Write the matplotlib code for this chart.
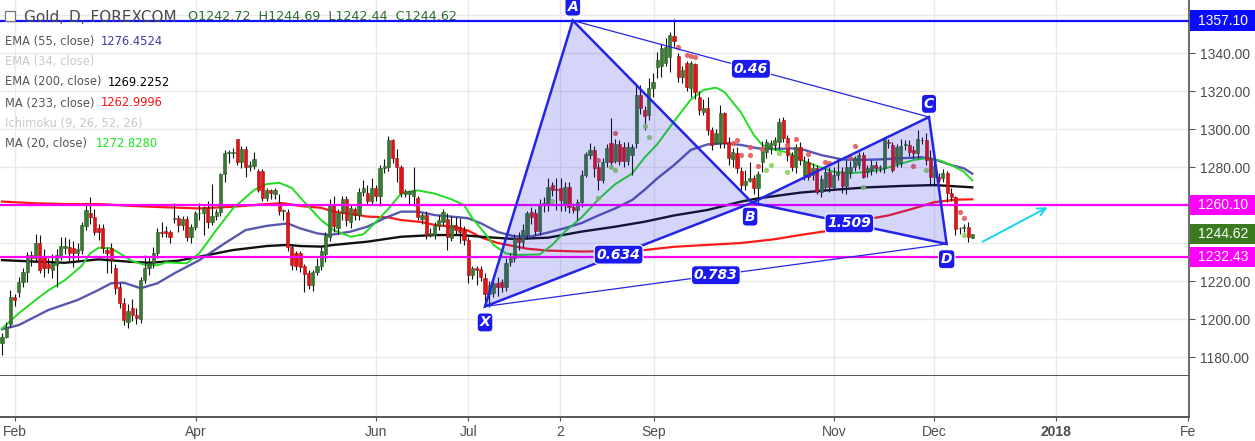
import numpy as np
import matplotlib
matplotlib.use("Agg")
from matplotlib import pyplot as plt
from matplotlib.patches import Rectangle, Polygon

W, H = 1255, 441

# daily OHLC, bar index 0 = late Jan 2017, last bar = current day
opens = [1187.5, 1190.7, 1197.4, 1211.7, 1214.4, 1219.6, 1224.5, 1233.7, 1232.0, 1239.8,
         1232.8, 1229.0, 1225.8, 1228.4, 1233.2, 1237.2, 1237.7, 1237.2, 1234.6, 1236.3,
         1248.9, 1255.6, 1253.5, 1247.7, 1247.7, 1236.3, 1237.2, 1226.7, 1217.0, 1208.6,
         1198.6, 1205.6, 1202.0, 1199.8, 1220.5, 1226.7, 1229.3, 1234.6, 1246.0, 1246.3,
         1245.6, 1252.5, 1253.0, 1249.5, 1252.4, 1243.3, 1248.6, 1255.6, 1255.6, 1258.2,
         1251.2, 1254.2, 1256.5, 1276.1, 1287.2, 1287.5, 1294.6, 1282.8, 1289.3, 1280.2,
         1280.5, 1277.9, 1277.9, 1263.5, 1267.9, 1266.0, 1261.8, 1257.0, 1256.5, 1238.1,
         1234.6, 1234.6, 1227.9, 1224.0, 1217.9, 1224.9, 1228.0, 1234.0, 1243.3, 1260.0,
         1247.7, 1256.5, 1263.0, 1251.2, 1257.7, 1254.7, 1267.0, 1266.5, 1262.3, 1268.8,
         1264.7, 1279.3, 1280.2, 1294.2, 1284.9, 1279.8, 1265.8, 1265.8, 1265.0, 1263.5,
         1252.4, 1254.7, 1244.2, 1244.2, 1249.0, 1251.2, 1252.4, 1242.5, 1249.5, 1248.6,
         1246.8, 1241.6, 1223.2, 1226.7, 1226.1, 1221.4, 1213.0, 1213.5, 1218.8, 1219.6,
         1217.0, 1230.2, 1232.3, 1242.8, 1240.7, 1244.2, 1256.5, 1256.0, 1246.3, 1260.4,
         1260.0, 1270.5, 1268.0, 1268.8, 1260.0, 1269.6, 1259.1, 1257.4, 1261.8, 1275.8,
         1286.3, 1289.0, 1280.0, 1273.2, 1282.8, 1292.5, 1283.0, 1292.0, 1290.7, 1283.2,
         1286.3, 1292.5, 1317.9, 1310.0, 1307.4, 1321.4, 1332.8, 1333.0, 1335.0, 1338.0,
         1349.1, 1338.6, 1327.5, 1334.6, 1321.4, 1334.0, 1317.0, 1309.0, 1311.0, 1299.5,
         1292.5, 1292.5, 1308.2, 1293.3, 1284.0, 1287.2, 1277.9, 1270.5, 1272.4, 1274.4,
         1268.8, 1282.8, 1288.0, 1289.8, 1291.6, 1293.3, 1304.7, 1295.1, 1286.3, 1280.2,
         1290.7, 1275.8, 1282.8, 1275.8, 1279.3, 1267.0, 1269.6, 1277.5, 1269.6, 1275.8,
         1277.5, 1270.0, 1277.5, 1280.2, 1281.0, 1286.3, 1277.5, 1278.4, 1281.0, 1279.3,
         1279.3, 1293.3, 1291.6, 1281.9, 1281.9, 1291.6, 1291.6, 1289.0, 1287.2, 1294.2,
         1294.2, 1284.6, 1274.9, 1274.6, 1274.0, 1276.7, 1266.1, 1264.0, 1247.7, 1247.7,
         1248.6, 1242.72]
highs = [1192.5, 1198.6, 1215.3, 1213.0, 1222.3, 1226.7, 1235.4, 1236.0, 1245.0, 1244.0,
         1237.0, 1232.0, 1234.0, 1237.0, 1243.3, 1243.0, 1242.0, 1241.0, 1240.0, 1251.0,
         1260.9, 1264.0, 1258.0, 1250.0, 1250.0, 1238.0, 1240.0, 1229.0, 1219.0, 1211.0,
         1208.0, 1210.4, 1206.0, 1222.0, 1233.7, 1233.0, 1238.0, 1247.7, 1251.2, 1249.0,
         1247.0, 1260.9, 1255.0, 1254.0, 1254.0, 1250.0, 1257.0, 1260.9, 1259.5, 1262.0,
         1270.9, 1258.0, 1277.0, 1289.0, 1289.0, 1290.0, 1295.0, 1291.0, 1291.0, 1283.0,
         1288.0, 1279.0, 1279.0, 1269.0, 1268.2, 1269.0, 1266.0, 1258.0, 1258.0, 1239.0,
         1236.0, 1236.0, 1229.0, 1226.0, 1226.0, 1232.0, 1238.0, 1246.0, 1263.0, 1265.0,
         1258.0, 1265.0, 1265.0, 1260.0, 1258.7, 1269.0, 1273.2, 1270.5, 1274.0, 1270.5,
         1281.0, 1284.0, 1296.3, 1295.0, 1289.3, 1281.0, 1268.2, 1268.0, 1280.2, 1265.0,
         1256.0, 1257.0, 1248.0, 1251.0, 1255.0, 1257.7, 1256.0, 1254.2, 1253.8, 1253.0,
         1249.0, 1243.0, 1228.0, 1228.0, 1228.0, 1224.0, 1220.0, 1221.0, 1222.0, 1221.0,
         1232.0, 1235.0, 1245.0, 1246.0, 1250.0, 1257.0, 1259.0, 1258.0, 1263.0, 1264.4,
         1274.0, 1272.0, 1274.0, 1274.0, 1272.0, 1272.0, 1261.0, 1263.0, 1278.4, 1288.0,
         1292.5, 1291.0, 1282.0, 1285.0, 1292.0, 1305.6, 1295.0, 1294.0, 1293.0, 1293.0,
         1292.0, 1323.2, 1323.0, 1312.0, 1326.7, 1329.3, 1340.7, 1345.0, 1348.0, 1351.0,
         1357.9, 1339.8, 1333.0, 1336.0, 1336.0, 1335.0, 1320.0, 1316.0, 1317.0, 1301.0,
         1300.0, 1312.6, 1309.0, 1296.0, 1290.0, 1290.7, 1280.0, 1278.4, 1282.8, 1276.0,
         1278.0, 1293.7, 1295.0, 1294.0, 1296.0, 1305.6, 1306.5, 1297.0, 1288.0, 1292.0,
         1293.0, 1286.0, 1285.0, 1282.0, 1281.0, 1276.0, 1280.2, 1280.0, 1280.2, 1284.0,
         1280.0, 1283.7, 1283.0, 1286.0, 1288.0, 1288.0, 1281.0, 1283.7, 1283.0, 1281.0,
         1296.0, 1295.0, 1293.0, 1292.0, 1295.0, 1294.2, 1294.0, 1291.0, 1299.5, 1296.0,
         1297.7, 1289.0, 1289.0, 1277.0, 1279.0, 1278.0, 1268.8, 1265.0, 1248.6, 1250.0,
         1251.2, 1244.69]
lows = [1181.0, 1189.8, 1196.0, 1207.0, 1211.7, 1217.0, 1219.6, 1228.0, 1230.0, 1224.0,
        1222.3, 1224.0, 1221.4, 1217.0, 1231.0, 1234.0, 1230.0, 1227.5, 1231.0, 1234.0,
        1247.0, 1250.0, 1244.0, 1241.6, 1235.0, 1224.0, 1224.0, 1213.0, 1206.0, 1197.0,
        1195.1, 1199.0, 1197.4, 1197.7, 1219.0, 1223.0, 1227.0, 1232.0, 1243.0, 1243.0,
        1240.0, 1250.4, 1246.0, 1247.0, 1241.0, 1240.0, 1247.0, 1252.0, 1244.2, 1247.7,
        1249.5, 1252.0, 1254.0, 1272.3, 1282.3, 1285.0, 1281.0, 1279.3, 1274.9, 1278.0,
        1279.0, 1267.0, 1262.0, 1262.0, 1263.0, 1263.0, 1255.0, 1252.0, 1236.0, 1226.0,
        1226.0, 1225.0, 1214.4, 1216.0, 1215.0, 1223.0, 1226.0, 1230.0, 1241.0, 1246.0,
        1245.0, 1252.0, 1249.0, 1248.0, 1252.0, 1252.0, 1265.0, 1259.8, 1260.0, 1262.0,
        1259.5, 1277.0, 1278.0, 1282.0, 1272.3, 1264.0, 1264.0, 1260.0, 1259.5, 1252.0,
        1250.0, 1242.0, 1243.3, 1242.0, 1247.0, 1249.0, 1236.3, 1241.2, 1244.0, 1240.2,
        1239.0, 1218.8, 1221.0, 1218.0, 1220.0, 1206.5, 1206.5, 1211.8, 1212.0, 1214.0,
        1215.0, 1228.0, 1230.0, 1236.3, 1238.0, 1242.0, 1250.0, 1244.0, 1244.2, 1256.5,
        1257.0, 1265.0, 1257.4, 1256.8, 1257.0, 1256.0, 1255.6, 1252.1, 1259.0, 1274.9,
        1284.0, 1275.0, 1268.0, 1271.4, 1280.0, 1280.0, 1282.0, 1281.0, 1280.0, 1281.0,
        1275.8, 1290.0, 1308.0, 1299.5, 1305.0, 1317.0, 1327.0, 1327.5, 1333.0, 1330.0,
        1343.0, 1325.0, 1324.0, 1320.0, 1317.0, 1316.0, 1307.4, 1307.4, 1297.0, 1289.0,
        1292.0, 1290.0, 1289.8, 1281.0, 1280.0, 1277.0, 1268.0, 1268.0, 1272.3, 1266.0,
        1260.9, 1277.5, 1285.0, 1287.0, 1289.0, 1290.0, 1293.0, 1283.0, 1278.0, 1277.0,
        1281.0, 1273.0, 1273.2, 1273.0, 1266.0, 1264.0, 1268.0, 1267.0, 1267.9, 1273.0,
        1266.5, 1266.0, 1274.0, 1278.0, 1279.0, 1274.0, 1274.9, 1276.0, 1277.0, 1277.5,
        1277.0, 1290.0, 1277.5, 1280.0, 1280.0, 1289.0, 1286.0, 1285.0, 1285.0, 1292.0,
        1281.0, 1270.0, 1270.0, 1272.0, 1272.0, 1261.8, 1262.0, 1244.2, 1244.7, 1246.0,
        1240.7, 1242.44]
closes = [1190.7, 1196.0, 1211.7, 1210.0, 1219.6, 1224.9, 1233.7, 1232.0, 1239.8, 1225.8,
          1226.7, 1226.7, 1229.3, 1233.7, 1238.4, 1238.4, 1234.6, 1234.6, 1236.7, 1249.5,
          1257.4, 1253.9, 1246.0, 1246.0, 1237.2, 1234.6, 1231.0, 1216.2, 1208.2, 1199.5,
          1204.4, 1202.1, 1200.4, 1220.5, 1226.7, 1229.3, 1234.6, 1246.0, 1245.1, 1245.1,
          1243.0, 1253.0, 1249.5, 1252.4, 1243.3, 1248.6, 1255.6, 1256.0, 1258.2, 1251.2,
          1254.2, 1256.5, 1276.1, 1287.2, 1287.5, 1288.0, 1282.8, 1289.3, 1280.2, 1281.1,
          1284.0, 1267.9, 1263.5, 1267.9, 1266.1, 1267.9, 1257.0, 1257.4, 1238.1, 1228.4,
          1228.1, 1227.5, 1223.7, 1217.9, 1224.9, 1227.9, 1236.0, 1244.2, 1260.0, 1249.0,
          1255.6, 1263.0, 1252.1, 1258.2, 1254.7, 1267.0, 1268.8, 1262.3, 1268.8, 1264.7,
          1279.3, 1280.5, 1294.2, 1284.6, 1279.8, 1266.1, 1267.5, 1267.5, 1267.7, 1253.8,
          1254.7, 1244.2, 1245.1, 1249.0, 1252.1, 1256.5, 1243.0, 1249.5, 1246.8, 1246.0,
          1241.6, 1223.2, 1226.7, 1225.8, 1222.3, 1213.0, 1217.9, 1218.8, 1217.0, 1217.0,
          1229.3, 1232.3, 1242.5, 1240.7, 1246.8, 1255.6, 1253.9, 1246.5, 1260.4, 1260.6,
          1269.6, 1267.9, 1267.8, 1262.6, 1269.6, 1259.1, 1257.4, 1261.8, 1275.8, 1286.7,
          1289.0, 1279.3, 1273.2, 1282.8, 1289.8, 1282.8, 1292.0, 1283.2, 1283.2, 1290.7,
          1290.7, 1317.9, 1310.9, 1307.0, 1321.4, 1324.9, 1336.3, 1342.5, 1343.0, 1349.5,
          1346.3, 1327.5, 1331.0, 1322.3, 1334.6, 1319.7, 1310.0, 1311.2, 1299.5, 1291.6,
          1297.7, 1308.2, 1292.5, 1284.6, 1288.0, 1279.3, 1270.5, 1272.6, 1274.4, 1268.8,
          1276.1, 1289.8, 1293.3, 1292.5, 1294.2, 1303.9, 1295.1, 1286.3, 1280.2, 1290.7,
          1283.7, 1282.8, 1274.9, 1279.3, 1267.0, 1273.5, 1277.5, 1269.3, 1275.8, 1277.5,
          1270.0, 1280.2, 1280.2, 1284.6, 1286.3, 1274.9, 1279.3, 1281.0, 1279.3, 1279.5,
          1294.6, 1292.5, 1278.4, 1290.7, 1291.1, 1291.8, 1288.1, 1287.2, 1294.6, 1294.0,
          1283.7, 1274.9, 1280.5, 1273.2, 1277.0, 1266.1, 1264.0, 1247.2, 1247.9, 1248.6,
          1243.3, 1244.62]

# moving averages (bar index, value)
ma20_x = [0, 4, 8, 11, 15, 19, 21, 23, 26, 28, 31, 34, 37, 39, 44, 47, 51, 55, 60, 63,
          66, 69, 72, 76, 79, 83, 86, 89, 92, 95, 99, 103, 107, 110, 112, 115, 117, 120,
          123, 128, 131, 134, 138, 142, 146, 150, 153, 156, 160, 164, 167, 170, 172, 176,
          179, 181, 184, 187, 191, 194, 198, 202, 206, 209, 213, 217, 220, 223, 226, 229, 231]
ma20_y = [1195.0, 1203.0, 1210.0, 1215.0, 1220.5, 1228.0, 1234.6, 1237.5, 1237.2, 1234.6,
          1230.5, 1228.5, 1228.3, 1229.8, 1229.3, 1234.6, 1246.8, 1258.2, 1267.9, 1271.0,
          1271.7, 1269.0, 1261.5, 1252.0, 1246.8, 1243.3, 1244.5, 1251.0, 1258.0, 1266.0,
          1267.7, 1266.0, 1263.0, 1260.0, 1253.0, 1245.0, 1239.0, 1234.5, 1233.7, 1234.0,
          1239.0, 1246.0, 1253.5, 1263.0, 1271.0, 1276.5, 1285.0, 1292.0, 1304.0, 1315.5,
          1320.5, 1321.8, 1319.5, 1308.5, 1296.8, 1291.6, 1289.0, 1287.7, 1283.0, 1280.5,
          1277.5, 1276.7, 1277.5, 1278.4, 1281.0, 1283.7, 1284.6, 1283.7, 1281.0, 1277.5, 1273.0]
ema55_x = [0, 4, 11, 18, 23, 26, 29, 33, 37, 41, 47, 53, 58, 63, 68, 71, 75, 78, 83, 87,
           91, 95, 99, 103, 109, 111, 114, 118, 122, 126, 130, 134, 138, 142, 146, 150,
           153, 156, 160, 164, 168, 172, 176, 180, 184, 188, 191, 195, 200, 204, 209, 214,
           219, 222, 226, 229, 231]
ema55_y = [1194.6, 1196.8, 1204.7, 1210.0, 1215.3, 1218.8, 1219.1, 1216.2, 1218.8, 1224.0,
           1231.0, 1239.8, 1246.8, 1249.0, 1250.3, 1247.7, 1245.1, 1244.2, 1246.0, 1248.6,
           1253.0, 1256.5, 1256.5, 1254.7, 1253.5, 1253.0, 1250.4, 1245.8, 1243.5, 1243.5,
           1245.5, 1247.8, 1250.5, 1254.5, 1258.2, 1262.6, 1268.0, 1274.0, 1281.0, 1289.0,
           1291.9, 1292.5, 1291.6, 1289.8, 1289.5, 1289.8, 1289.0, 1286.3, 1284.0, 1283.7,
           1284.0, 1284.6, 1285.1, 1284.0, 1281.0, 1279.3, 1276.5]
ema200_x = [0, 8, 15, 23, 30, 35, 42, 47, 55, 63, 68, 71, 76, 79, 87, 95, 103, 109, 114,
            122, 130, 138, 146, 153, 160, 168, 176, 180, 190, 198, 206, 214, 222, 231]
ema200_y = [1231.0, 1230.2, 1229.6, 1231.4, 1230.2, 1229.6, 1230.7, 1232.8, 1236.3, 1238.4,
            1239.0, 1238.4, 1238.1, 1239.0, 1240.7, 1243.3, 1244.2, 1244.2, 1243.3, 1242.1,
            1242.8, 1246.0, 1248.6, 1251.2, 1254.5, 1257.4, 1261.8, 1263.5, 1266.5, 1268.0,
            1269.3, 1270.0, 1270.5, 1269.3]
ma233_x = [0, 8, 15, 23, 31, 39, 47, 55, 63, 67, 71, 76, 79, 84, 87, 92, 95, 100, 103,
           108, 111, 114, 118, 125, 130, 138, 146, 153, 160, 168, 176, 184, 190, 200, 206,
           211, 216, 222, 227, 231]
ma233_y = [1261.8, 1260.9, 1260.5, 1260.5, 1259.5, 1258.8, 1258.2, 1259.1, 1260.5, 1260.9,
           1259.5, 1258.5, 1256.5, 1255.0, 1253.9, 1253.5, 1252.1, 1251.0, 1249.5, 1248.4,
           1246.5, 1243.0, 1240.0, 1237.0, 1236.0, 1235.5, 1235.8, 1236.3, 1238.0, 1239.0,
           1240.0, 1242.0, 1244.2, 1247.5, 1252.5, 1254.5, 1257.5, 1261.5, 1262.8, 1263.0]

# ichimoku dots
red_dot_x = [142, 146, 161, 163, 164, 165, 174, 175, 176, 178, 178, 180, 181, 187, 189,
             192, 196, 197, 202, 203, 217, 228, 229]
red_dot_y = [1283.6, 1297.7, 1343.2, 1338.8, 1338.2, 1337.7, 1292.6, 1294.1, 1286.5, 1290.3,
             1286.3, 1280.3, 1289.5, 1291.6, 1295.0, 1287.0, 1282.5, 1282.0, 1284.5, 1291.0,
             1280.5, 1256.1, 1253.2]
green_dot_x = [131, 142, 145, 146, 153, 154, 182, 183, 185, 187, 205, 220, 229]
green_dot_y = [1262.1, 1263.5, 1280.0, 1278.4, 1301.4, 1295.7, 1278.4, 1280.8, 1287.5,
               1277.6, 1269.5, 1278.4, 1244.1]

# harmonic pattern points X A B C D
pat_names = ["X", "A", "B", "C", "D"]
pat_x = [115.0, 135.9, 178.6, 220.7, 224.9]
pat_y = [1206.6, 1357.1, 1261.2, 1306.3, 1239.5]
ratio_labels = ["0.634", "0.46", "1.509", "0.783"]
ratio_pairs = [(0, 2), (1, 3), (2, 4), (0, 4)]

# horizontal levels and price scale tags
levels = [1357.10, 1260.10, 1232.43]
level_colors = ["#1212ff", "#ff00ff", "#ff00ff"]
tag_prices = [1357.10, 1260.10, 1244.62, 1232.43]
tag_colors = ["#0b0bff", "#ff00ff", "#3b7a1f", "#ff00ff"]
arrow_x = [232.9, 249.5]
arrow_y = [1240.0, 1259.5]

tick_bars = [3.1, 46.2, 89.0, 111.0, 132.9, 155.2, 198.1, 221.9, 251.0, 282.4]
tick_labels = ["Feb", "Apr", "Jun", "Jul", "2", "Sep", "Nov", "Dec", "2018", "Fe"]
price_ticks = [1180, 1200, 1220, 1240, 1260, 1280, 1300, 1320, 1340, 1360]
hidden_ticks = [1240, 1260, 1360]   # covered by the price tags

legend_names = ["EMA (55, close)", "EMA (34, close)", "EMA (200, close)",
                "MA (233, close)", "Ichimoku (9, 26, 52, 26)", "MA (20, close)"]
legend_values = ["1276.4524", "", "1269.2252", "1262.9996", "", "1272.8280"]
legend_colors = ["#3d3da8", "#c8c8c8", "#000000", "#ff1010", "#c8c8c8", "#19e619"]
legend_value_x = [101, 0, 108, 101, 0, 96]

GRID = "#e9e9e9"
AXC = "#555555"

fig = plt.figure(figsize=(W / 100, H / 100), dpi=100)
ax = fig.add_axes([0, 65 / H, 1189 / W, 376 / H])
ax2 = fig.add_axes([0, 24 / H, 1189 / W, 41 / H], sharex=ax)

ax.set_xlim(-0.476, 282.6)
ax.set_ylim(1170.0, 1367.9)

# grid
ax.set_yticks(price_ticks)
ax.set_xticks(tick_bars)
ax.grid(True, color=GRID, lw=1.0, zorder=0)
ax2.grid(True, axis="x", color=GRID, lw=1.0, zorder=0)
ax2.set_yticks([])

# moving averages
ax.plot(ma233_x, ma233_y, color="#ff1a1a", lw=1.6, zorder=2)
ax.plot(ema200_x, ema200_y, color="#111111", lw=1.7, zorder=2)
ax.plot(ema55_x, ema55_y, color="#4646a6", lw=1.7, alpha=0.9, zorder=2)
ax.plot(ma20_x, ma20_y, color="#22dd22", lw=1.4, zorder=2)

# candles
o = np.array(opens); c = np.array(closes); hi = np.array(highs); lo = np.array(lows)
idx = np.arange(len(c))
up = c >= o
ax.vlines(idx, lo, hi, color="#111111", lw=0.8, zorder=3)
body_lo = np.minimum(o, c)
body_h = np.maximum(np.abs(c - o), 0.45)
ax.bar(idx[up], body_h[up], bottom=body_lo[up], width=0.74, color="#3b7a33",
       edgecolor="#2a5a24", lw=0.4, zorder=4)
ax.bar(idx[~up], body_h[~up], bottom=body_lo[~up], width=0.74, color="#e01414",
       edgecolor="#a01010", lw=0.4, zorder=4)

# ichimoku dots
ax.scatter(red_dot_x, red_dot_y, s=14, color="#e35b5b", alpha=0.9, lw=0, zorder=5)
ax.scatter(green_dot_x, green_dot_y, s=14, color="#8ed35a", alpha=0.9, lw=0, zorder=5)

# horizontal levels
for lv, col in zip(levels, level_colors):
    ax.axhline(lv, color=col, lw=1.6, zorder=6)

# harmonic pattern
PB = "#2424e6"
pts = list(zip(pat_x, pat_y))
for tri in [(0, 1, 2), (2, 3, 4)]:
    ax.add_patch(Polygon([pts[k] for k in tri], closed=True, facecolor=PB, alpha=0.19,
                         edgecolor="none", zorder=7))
    ax.add_patch(Polygon([pts[k] for k in tri], closed=True, facecolor="none",
                         edgecolor=PB, lw=1.8, zorder=8))
for a, b in [(1, 3), (0, 4)]:
    ax.plot([pat_x[a], pat_x[b]], [pat_y[a], pat_y[b]], color=PB, lw=0.9, zorder=8)

box = dict(boxstyle="round,pad=0.18,rounding_size=0.3", fc="#1a1aee", ec="white", lw=0.8)
for lab, (a, b) in zip(ratio_labels, ratio_pairs):
    ax.text((pat_x[a] + pat_x[b]) / 2, (pat_y[a] + pat_y[b]) / 2, lab, color="white",
            fontsize=10, fontweight="bold", style="italic", ha="center", va="center",
            bbox=box, zorder=9)
offsets = [(0, -11.5), (0, 10), (-1.5, -10), (0, 9.5), (0, -11)]
for name, x, y, off in zip(pat_names, pat_x, pat_y, offsets):
    ax.annotate(name, (x, y), xytext=off, textcoords="offset points", color="white",
                fontsize=10, fontweight="bold", style="italic", ha="center", va="center",
                bbox=box, zorder=9, annotation_clip=False)

# forecast arrow
ax.annotate("", xy=(arrow_x[1], arrow_y[1]), xytext=(arrow_x[0], arrow_y[0]),
            arrowprops=dict(arrowstyle="->", color="#19d3ef", lw=1.4, mutation_scale=14),
            zorder=9)

# axes styling
for s in ["top", "left"]:
    ax.spines[s].set_visible(False)
    ax2.spines[s].set_visible(False)
for a_ in (ax, ax2):
    a_.spines["right"].set_color(AXC)
    a_.spines["right"].set_linewidth(1.2)
    a_.spines["bottom"].set_color(AXC)
    a_.spines["bottom"].set_linewidth(1.4)
ax.yaxis.tick_right()
ax.set_yticklabels(["" if p in hidden_ticks else "%.2f" % p for p in price_ticks])
ax.tick_params(axis="y", length=4, color=AXC, labelcolor="#4d4d4d", pad=4,
               labelsize=10)
for t in ax.get_yticklabels():
    t.set_fontfamily("Liberation Sans")
ax.tick_params(axis="x", length=0, labelbottom=False)
ax2.tick_params(axis="x", length=3, color=AXC, labelcolor="#4d4d4d", labelsize=10, pad=3)
ax2.set_xticklabels(tick_labels)
for t in ax2.get_xticklabels():
    t.set_fontfamily("Liberation Sans")
    if t.get_text() == "2018":
        t.set_fontweight("bold")

# price tags on the scale
tr = ax.get_yaxis_transform()
for p, col in zip(tag_prices, tag_colors):
    ax.add_patch(Rectangle((1.0008, p - 5.3), 66 / 1189, 10.6, transform=tr,
                           facecolor=col, edgecolor="none", clip_on=False, zorder=20))
    ax.text(1.0008 + 33 / 1189, p, "%.2f" % p, transform=tr, color="white",
            fontsize=10, family="Liberation Sans", ha="center", va="center",
            clip_on=False, zorder=21)

# header and legend
def fx(x):
    return x / W

def fy(y):
    return 1 - y / H

fig.add_artist(Rectangle((fx(5), fy(21)), 10 / W, 10 / H, transform=fig.transFigure,
                         facecolor="white", edgecolor="#777777", lw=0.9))
fig.text(fx(24), fy(17), "Gold, D, FOREXCOM", fontsize=11, color="#4a4a4a",
         ha="left", va="center")
fig.text(fx(188), fy(17), "O1242.72  H1244.69  L1242.44  C1244.62", fontsize=9.2,
         color="#2e6b2e", ha="left", va="center")
rows_y = [41.5, 61.5, 82, 103, 123, 144]
for name, val, col, yy, vx in zip(legend_names, legend_values, legend_colors, rows_y,
                                  legend_value_x):
    ncol = "#c8c8c8" if val == "" else "#555555"
    fig.text(fx(5), fy(yy), name, fontsize=8.3, color=ncol, ha="left", va="center")
    if val:
        fig.text(fx(vx), fy(yy), val, fontsize=8.3, color=col, ha="left", va="center")

plt.savefig("out.png", dpi=100)
